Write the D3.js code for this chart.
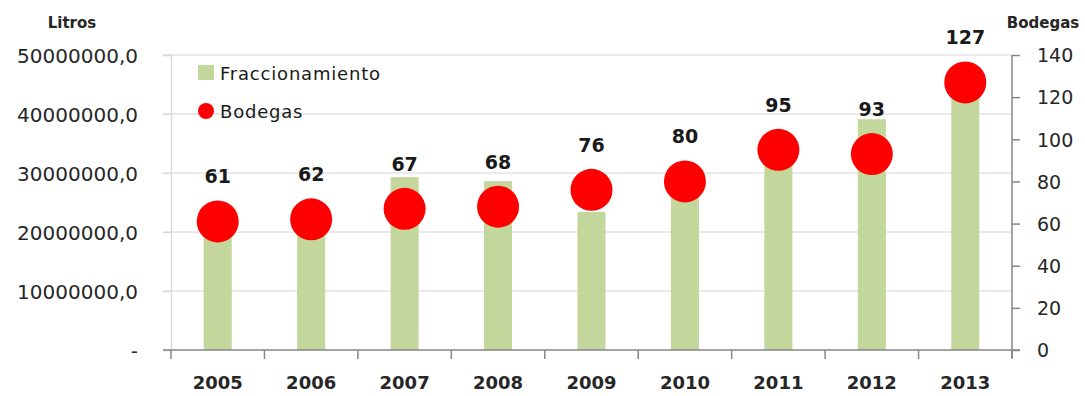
<!DOCTYPE html>
<html>
<head>
<meta charset="utf-8">
<script src="https://cdn.jsdelivr.net/npm/d3@7"></script>
<style>
  html, body { margin: 0; padding: 0; background: #fff; }
  svg { display: block; font-family: "DejaVu Sans", sans-serif; }
</style>
</head>
<body>
<svg id="chart" width="1085" height="396"></svg>
<script>
// Years on the category axis
const years = ["2005", "2006", "2007", "2008", "2009", "2010", "2011", "2012", "2013"];
// Litres bottled per year (left axis)
const fraccionamiento = [21000000, 21500000, 29300000, 28600000, 23400000, 27000000, 32000000, 39100000, 45000000];
// Number of wineries per year (right axis)
const bodegas = [61, 62, 67, 68, 76, 80, 95, 93, 127];
// Axis ticks
const litrosTicks = [0, 10000000, 20000000, 30000000, 40000000, 50000000];
const bodegasTicks = [0, 20, 40, 60, 80, 100, 120, 140];

const svg = d3.select("#chart");
const plotLeft = 171, plotRight = 1012, plotTop = 55, plotBottom = 350;

const x = d3.scaleBand().domain(years).range([plotLeft, plotRight]);
const yL = d3.scaleLinear().domain([0, 50000000]).range([plotBottom, plotTop]);
const yR = d3.scaleLinear().domain([0, 140]).range([plotBottom, plotTop]);

const es = d3.formatLocale({ decimal: ",", thousands: ".", grouping: [3], currency: ["", ""] });
const fmtL = v => v === 0 ? "-" : es.format(".1f")(v);

// Horizontal gridlines (light), extending out as left-axis ticks
svg.append("g")
  .selectAll("line")
  .data(litrosTicks.slice(1))
  .join("line")
  .attr("x1", plotLeft - 8).attr("x2", plotRight)
  .attr("y1", d => yL(d)).attr("y2", d => yL(d))
  .attr("stroke", "#e3e3e3").attr("stroke-width", 1.3);

// Left axis
const gL = svg.append("g").attr("transform", `translate(${plotLeft},0)`)
  .call(d3.axisLeft(yL).tickValues(litrosTicks).tickFormat(fmtL).tickSize(8).tickPadding(25));
gL.select(".domain").attr("stroke", "#d9d9d9").attr("stroke-width", 1.3);
gL.selectAll(".tick line").attr("stroke", "#d9d9d9").attr("stroke-width", 1.3);
gL.selectAll(".tick text").attr("font-size", 20).attr("fill", "#262626")
  .attr("font-family", "DejaVu Sans").attr("dy", "0.36em");

// Bars
const bw = x.bandwidth() * 0.3;
svg.append("g")
  .selectAll("rect")
  .data(years)
  .join("rect")
  .attr("x", (d) => x(d) + x.bandwidth() / 2 - bw / 2)
  .attr("width", bw)
  .attr("y", (d, i) => yL(fraccionamiento[i]))
  .attr("height", (d, i) => plotBottom - yL(fraccionamiento[i]))
  .attr("fill", "#c3d69b");

// Bottom axis
const gB = svg.append("g").attr("transform", `translate(0,${plotBottom})`)
  .call(d3.axisBottom(x).tickSize(0).tickPadding(26));
gB.select(".domain").remove();
gB.selectAll(".tick text").attr("font-size", 18).attr("font-weight", "bold")
  .attr("fill", "#262626").attr("font-family", "DejaVu Sans");
svg.append("line").attr("x1", plotLeft - 8).attr("x2", plotRight + 8)
  .attr("y1", plotBottom).attr("y2", plotBottom).attr("stroke", "#868686").attr("stroke-width", 1.5);
svg.append("g").selectAll("line")
  .data(years.concat(["end"]))
  .join("line")
  .attr("x1", (d, i) => plotLeft + i * x.step()).attr("x2", (d, i) => plotLeft + i * x.step())
  .attr("y1", plotBottom).attr("y2", plotBottom + 9)
  .attr("stroke", "#868686").attr("stroke-width", 1.5);

// Right axis
const gR = svg.append("g").attr("transform", `translate(${plotRight},0)`)
  .call(d3.axisRight(yR).tickValues(bodegasTicks).tickSize(8).tickPadding(17));
gR.select(".domain").attr("stroke", "#868686").attr("stroke-width", 1.5)
  .attr("d", `M0,${plotTop}V${plotBottom + 8}`);
gR.selectAll(".tick line").attr("stroke", "#868686").attr("stroke-width", 1.5);
gR.selectAll(".tick text").attr("font-size", 19).attr("fill", "#262626")
  .attr("font-family", "DejaVu Sans").attr("dy", "0.36em");

// Winery markers
svg.append("g")
  .selectAll("circle")
  .data(years)
  .join("circle")
  .attr("cx", d => x(d) + x.bandwidth() / 2)
  .attr("cy", (d, i) => yR(bodegas[i]))
  .attr("r", 21)
  .attr("fill", "#ff0000");

// Value labels
svg.append("g")
  .selectAll("text")
  .data(years)
  .join("text")
  .attr("x", d => x(d) + x.bandwidth() / 2)
  .attr("y", (d, i) => yR(bodegas[i]) - 38)
  .attr("text-anchor", "middle")
  .attr("font-size", 19).attr("font-weight", "bold").attr("fill", "#1a1a1a")
  .text((d, i) => bodegas[i]);

// Axis titles
svg.append("text").attr("x", 72).attr("y", 28).attr("text-anchor", "middle")
  .attr("font-size", 15).attr("font-weight", "bold").attr("fill", "#262626").text("Litros");
svg.append("text").attr("x", 1043).attr("y", 28).attr("text-anchor", "middle")
  .attr("font-size", 15).attr("font-weight", "bold").attr("fill", "#262626").text("Bodegas");

// Legend
const lg = svg.append("g");
lg.append("rect").attr("x", 198).attr("y", 65).attr("width", 16).attr("height", 15).attr("fill", "#c3d69b");
lg.append("text").attr("x", 220).attr("y", 80).attr("font-size", 18).attr("fill", "#1a1a1a")
  .attr("letter-spacing", 0.8).text("Fraccionamiento");
lg.append("circle").attr("cx", 206).attr("cy", 111).attr("r", 8).attr("fill", "#ff0000");
lg.append("text").attr("x", 220).attr("y", 118).attr("font-size", 18).attr("fill", "#1a1a1a")
  .attr("letter-spacing", 0.8).text("Bodegas");
</script>
</body>
</html>
